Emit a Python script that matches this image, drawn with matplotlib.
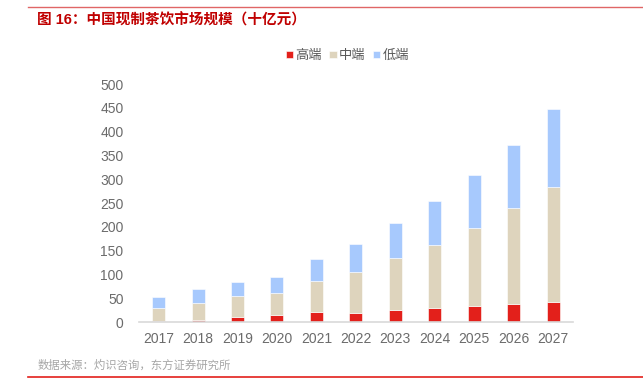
import matplotlib.pyplot as plt
import numpy as np
from matplotlib.lines import Line2D

plt.rcParams["font.family"] = ["Liberation Sans", "Noto Sans CJK SC", "DejaVu Sans"]

years = ["2017", "2018", "2019", "2020", "2021", "2022",
         "2023", "2024", "2025", "2026", "2027"]
high = [2, 5, 11, 16, 21, 19.5, 25, 29, 33.6, 37.8, 42]
mid  = [28, 36, 43, 46, 66, 86, 109.5, 134, 164, 201, 242]
low  = [23, 28, 31, 33, 46, 59, 74, 91, 111.5, 134, 163]

C_HIGH = "#e3201b"
C_MID  = "#ded4bd"
C_LOW  = "#a7c9fd"
GREY   = "#6b6b6b"

fig = plt.figure(figsize=(6.43, 3.79), dpi=100)
ax = fig.add_axes([0.216, 0.150, 0.675, 0.628])

x = np.arange(len(years))
w = 0.33
high_a = np.array(high)
mid_a  = np.array(mid)
low_a  = np.array(low)
kw = dict(edgecolor="white", linewidth=0.4)
ax.bar(x, high_a, w, color=C_HIGH, label="高端", **kw)
ax.bar(x, mid_a, w, bottom=high_a, color=C_MID, label="中端", **kw)
ax.bar(x, low_a, w, bottom=high_a + mid_a, color=C_LOW, label="低端", **kw)

ax.set_xlim(-0.5, len(years) - 0.5)
ax.set_ylim(0, 500)
ax.set_yticks(range(0, 501, 50))
ax.set_xticks(x)
ax.set_xticklabels(years)
for s in ["top", "right", "left"]:
    ax.spines[s].set_visible(False)
ax.spines["bottom"].set_color("#d9d9d9")
ax.spines["bottom"].set_linewidth(1.2)
ax.tick_params(axis="both", length=0, labelsize=10, colors=GREY)
ax.tick_params(axis="y", pad=11)
ax.tick_params(axis="x", pad=7)

leg = fig.legend(loc="center", bbox_to_anchor=(0.54, 0.852), ncol=3, frameon=False,
                 fontsize=9.5, handlelength=0.55, handleheight=0.55,
                 handletextpad=0.15, columnspacing=0.6)
for t in leg.get_texts():
    t.set_color("#595959")

fig.text(0.058, 0.947, "图 16：中国现制茶饮市场规模（十亿元）", color="#c00000",
         fontsize=10.5, fontweight="bold", va="center")
fig.text(0.058, 0.037, "数据来源：灼识咨询，东方证券研究所", color="#a6a6a6",
         fontsize=8.2, va="center")
fig.add_artist(Line2D([0.044, 1.0], [0.982, 0.982], color="#e06666", lw=1.0))
fig.add_artist(Line2D([0.044, 1.0], [0.004, 0.004], color="#e3201b", lw=1.2))

fig.savefig("out.png", dpi=100)
